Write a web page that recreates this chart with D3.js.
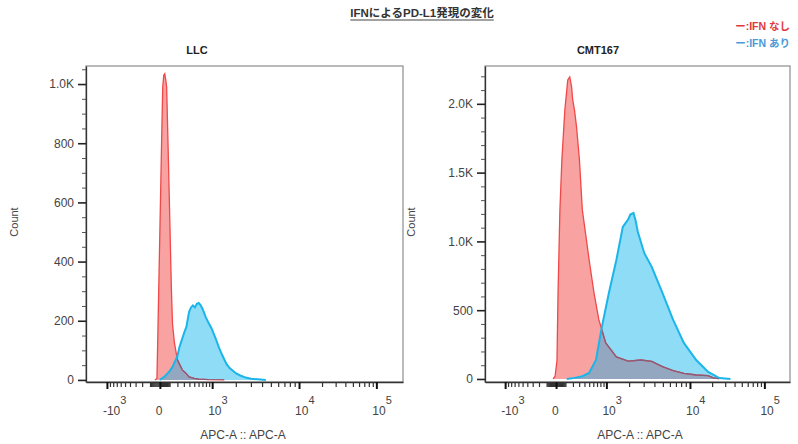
<!DOCTYPE html>
<html>
<head>
<meta charset="utf-8">
<script src="https://cdn.jsdelivr.net/npm/d3@7"></script>
<style>
  body { margin: 0; background: #fff; }
  svg { display: block; font-family: "Liberation Sans", Arial, "Noto Sans CJK JP", sans-serif; }
</style>
</head>
<body>
<svg id="chart" width="798" height="444"></svg>
<script>
// ---- data ----
const title = "IFNによるPD-L1発現の変化";
const legendLabels = ["ー:IFN なし", "ー:IFN あり"];
const panelNames = ["LLC", "CMT167"];
const xAxisTitle = "APC-A :: APC-A";
const yAxisTitle = "Count";

const xMajorTicks  = [-1000, 0, 1000, 10000, 100000];
const xMajorLabels = [["-10", "3"], ["0", ""], ["10", "3"], ["10", "4"], ["10", "5"]];

const llcYTicks  = [0, 200, 400, 600, 800, 1000];
const llcYLabels = ["0", "200", "400", "600", "800", "1.0K"];
const cmtYTicks  = [0, 500, 1000, 1500, 2000];
const cmtYLabels = ["0", "500", "1.0K", "1.5K", "2.0K"];

// [APC-A value, count]
const llcNoIfn = [
  [-47, 0], [-27, 5], [-18, 160], [-9, 330], [0, 500], [9, 670], [18, 840], [27, 990],
  [37, 1030], [47, 1035], [57, 1015], [67, 990], [78, 850], [89, 710], [100, 570],
  [111, 430], [122, 300], [135, 190], [160, 125], [200, 68], [274, 34], [340, 22],
  [394, 10], [500, 5], [606, 3], [879, 1], [1442, 0]
];
const llcIfn = [
  [0, 0], [47, 12], [100, 30], [135, 44], [200, 80], [229, 110], [306, 160], [345, 180],
  [394, 230], [432, 245], [470, 252], [515, 245], [560, 257], [606, 260], [655, 252],
  [710, 238], [790, 213], [879, 193], [976, 175], [1116, 140], [1231, 110], [1354, 85],
  [1530, 55], [1682, 40], [2020, 22], [2262, 15], [2612, 8], [3009, 4], [3600, 2], [4400, 0]
];
const cmtNoIfn = [
  [-28, 0], [-9, 20], [9, 138], [19, 625], [38, 1229], [59, 1593], [93, 1956], [129, 2174],
  [155, 2196], [182, 2120], [196, 2030], [225, 1950], [256, 1833], [305, 1593], [358, 1229],
  [500, 865], [619, 625], [754, 429], [976, 262], [1371, 160], [1945, 130], [2790, 138],
  [3727, 128], [4942, 90], [6520, 60], [8571, 40], [12180, 29], [17710, 25], [20770, 8], [25020, 0]
];
const cmtIfn = [
  [116, 0], [225, 8], [358, 20], [500, 44], [671, 138], [845, 378], [1084, 625], [1371, 865],
  [1664, 1105], [1945, 1160], [2068, 1195], [2265, 1207], [2405, 1150], [2553, 1070],
  [3045, 916], [3727, 815], [4942, 625], [6520, 429], [8571, 262], [12180, 138],
  [17710, 51], [25020, 7], [35280, 0]
];

// ---- layout ----
const svg = d3.select("#chart");
const frameTop = 66, frameBottom = 382;
const xDomain = [-1898, 156500];

// biex-like axis: symlog units, then pinned so decades sit where the cytometer draws them
const biex = d3.scaleSymlog().constant(350).domain(xDomain).range([0, 1]);
const xAnchors    = [xDomain[0], -1000, 0, 1000, 10000, 100000, xDomain[1]];
const xAnchorFrac = [0, 0.066, 0.233, 0.398, 0.672, 0.916, 1];

const panels = [
  { id: "llc", name: panelNames[0], left: 86, right: 403, yDomain: [-7, 1061],
    yTicks: llcYTicks, yLabels: llcYLabels, yMinorStep: 50,
    noIfn: llcNoIfn, ifn: llcIfn, titleX: 197, countX: 14, xTitleX: 243 },
  { id: "cmt", name: panelNames[1], left: 485, right: 790, yDomain: [-22, 2275],
    yTicks: cmtYTicks, yLabels: cmtYLabels, yMinorStep: 100,
    noIfn: cmtNoIfn, ifn: cmtIfn, titleX: 598, countX: 411, xTitleX: 640 }
];

// minor ticks of the biex axis
const xMinorTicks = [];
[10, 100, 1000, 10000, 100000].forEach(p => {
  for (let m = 1; m <= 9; m++) {
    [m * p, -m * p].forEach(v => {
      if (v > xDomain[0] && v < xDomain[1] && !xMajorTicks.includes(v)) xMinorTicks.push(v);
    });
  }
});

// title
const titleText = svg.append("text")
  .attr("x", 422).attr("y", 17)
  .attr("text-anchor", "middle")
  .attr("font-size", 11.5).attr("font-weight", "bold")
  .attr("fill", "#333")
  .text(title);
const tw = titleText.node().getComputedTextLength();
svg.append("line")
  .attr("x1", 422 - tw / 2).attr("x2", 422 + tw / 2)
  .attr("y1", 20).attr("y2", 20)
  .attr("stroke", "#444").attr("stroke-width", 1);

// legend
svg.append("text").attr("x", 790).attr("y", 30).attr("text-anchor", "end")
  .attr("font-size", 10.5).attr("font-weight", "bold").attr("fill", "#e0383c")
  .text(legendLabels[0]);
svg.append("text").attr("x", 790).attr("y", 47).attr("text-anchor", "end")
  .attr("font-size", 10.5).attr("font-weight", "bold").attr("fill", "#4a9ad8")
  .text(legendLabels[1]);

panels.forEach(p => {
  const xs = d3.scaleLinear()
    .domain(xAnchors.map(biex))
    .range(xAnchorFrac.map(f => p.left + f * (p.right - p.left)));
  const x = v => xs(biex(v));
  const y = d3.scaleLinear().domain(p.yDomain).range([frameBottom, frameTop]);

  const g = svg.append("g").attr("class", "panel-" + p.id);

  g.append("rect")
    .attr("x", p.left).attr("y", frameTop)
    .attr("width", p.right - p.left).attr("height", frameBottom - frameTop)
    .attr("fill", "#fff").attr("stroke", "#8c8c8c").attr("stroke-width", 1.2);

  g.append("clipPath").attr("id", "frame-" + p.id)
    .append("rect")
    .attr("x", p.left).attr("y", frameTop)
    .attr("width", p.right - p.left).attr("height", frameBottom - frameTop);

  const area = d3.area()
    .x(d => x(d[0]))
    .y0(y(0))
    .y1(d => y(d[1]));
  const line = d3.line()
    .x(d => x(d[0]))
    .y(d => y(d[1]));

  // overlap clip = the IFN (blue) area
  g.append("clipPath").attr("id", "blue-" + p.id)
    .append("path").attr("d", area(p.ifn));

  const plot = g.append("g").attr("clip-path", `url(#frame-${p.id})`);

  plot.append("path").attr("d", area(p.noIfn)).attr("fill", "#f8a2a2");
  plot.append("path").attr("d", area(p.ifn)).attr("fill", "#8edcf6");
  plot.append("g").attr("clip-path", `url(#blue-${p.id})`)
    .append("path").attr("d", area(p.noIfn)).attr("fill", "#93a8c0");

  plot.append("path").attr("d", line(p.noIfn))
    .attr("fill", "none").attr("stroke", "#f04848").attr("stroke-width", 1.3);
  plot.append("g").attr("clip-path", `url(#blue-${p.id})`)
    .append("path").attr("d", line(p.noIfn))
    .attr("fill", "none").attr("stroke", "#8a5c7c").attr("stroke-width", 1.3);
  plot.append("path").attr("d", line(p.ifn))
    .attr("fill", "none").attr("stroke", "#1cb5ea").attr("stroke-width", 2);

  // y axis
  const yMinor = d3.range(p.yMinorStep, p.yDomain[1], p.yMinorStep)
    .filter(v => !p.yTicks.includes(v));
  g.append("g")
    .attr("transform", `translate(${p.left},0)`)
    .call(d3.axisLeft(y).tickValues(yMinor).tickSize(4).tickSizeOuter(0).tickFormat(""))
    .call(a => a.select(".domain").remove())
    .call(a => a.selectAll("line").attr("stroke", "#555"));
  g.append("g")
    .attr("transform", `translate(${p.left},0)`)
    .call(d3.axisLeft(y).tickValues(p.yTicks).tickSize(8).tickSizeOuter(0)
      .tickFormat((d, i) => p.yLabels[i]).tickPadding(4))
    .call(a => a.select(".domain").attr("stroke", "#333").attr("stroke-width", 1.3))
    .call(a => a.selectAll("line").attr("stroke", "#222").attr("stroke-width", 1.6))
    .call(a => a.selectAll("text").attr("font-size", 12).attr("fill", "#444")
      .attr("font-family", null));

  // x axis
  g.append("g")
    .attr("transform", `translate(0,${frameBottom})`)
    .call(d3.axisBottom(xs).tickValues(xMinorTicks.map(biex)).tickSize(5).tickSizeOuter(0).tickFormat(""))
    .call(a => a.select(".domain").remove())
    .call(a => a.selectAll("line").attr("stroke", "#333").attr("stroke-width", 1.2));
  g.append("g")
    .attr("transform", `translate(0,${frameBottom})`)
    .call(d3.axisBottom(xs).tickValues(xMajorTicks.map(biex)).tickSize(7).tickSizeOuter(0).tickFormat(""))
    .call(a => a.select(".domain").attr("stroke", "#333").attr("stroke-width", 1.3))
    .call(a => a.selectAll("line").attr("stroke", "#111").attr("stroke-width", 2));

  const xl = g.selectAll("text.xlab").data(xMajorTicks).join("text")
    .attr("class", "xlab")
    .attr("x", d => x(d) - 4)
    .attr("y", 415)
    .attr("text-anchor", "start")
    .attr("font-size", 12)
    .attr("fill", "#444");
  xl.append("tspan").text((d, i) => xMajorLabels[i][0]);
  xl.append("tspan").attr("dy", -11).attr("font-size", 11).text((d, i) => xMajorLabels[i][1]);

  // titles
  g.append("text").attr("x", p.titleX).attr("y", 54)
    .attr("text-anchor", "middle").attr("font-size", 11).attr("font-weight", "bold")
    .attr("fill", "#222").text(p.name);
  g.append("text")
    .attr("transform", `translate(${p.countX + 4},222) rotate(-90)`)
    .attr("text-anchor", "middle").attr("font-size", 11).attr("fill", "#444")
    .text(yAxisTitle);
  g.append("text").attr("x", p.xTitleX).attr("y", 439)
    .attr("text-anchor", "middle").attr("font-size", 12).attr("fill", "#444")
    .text(xAxisTitle);
});
</script>
</body>
</html>
